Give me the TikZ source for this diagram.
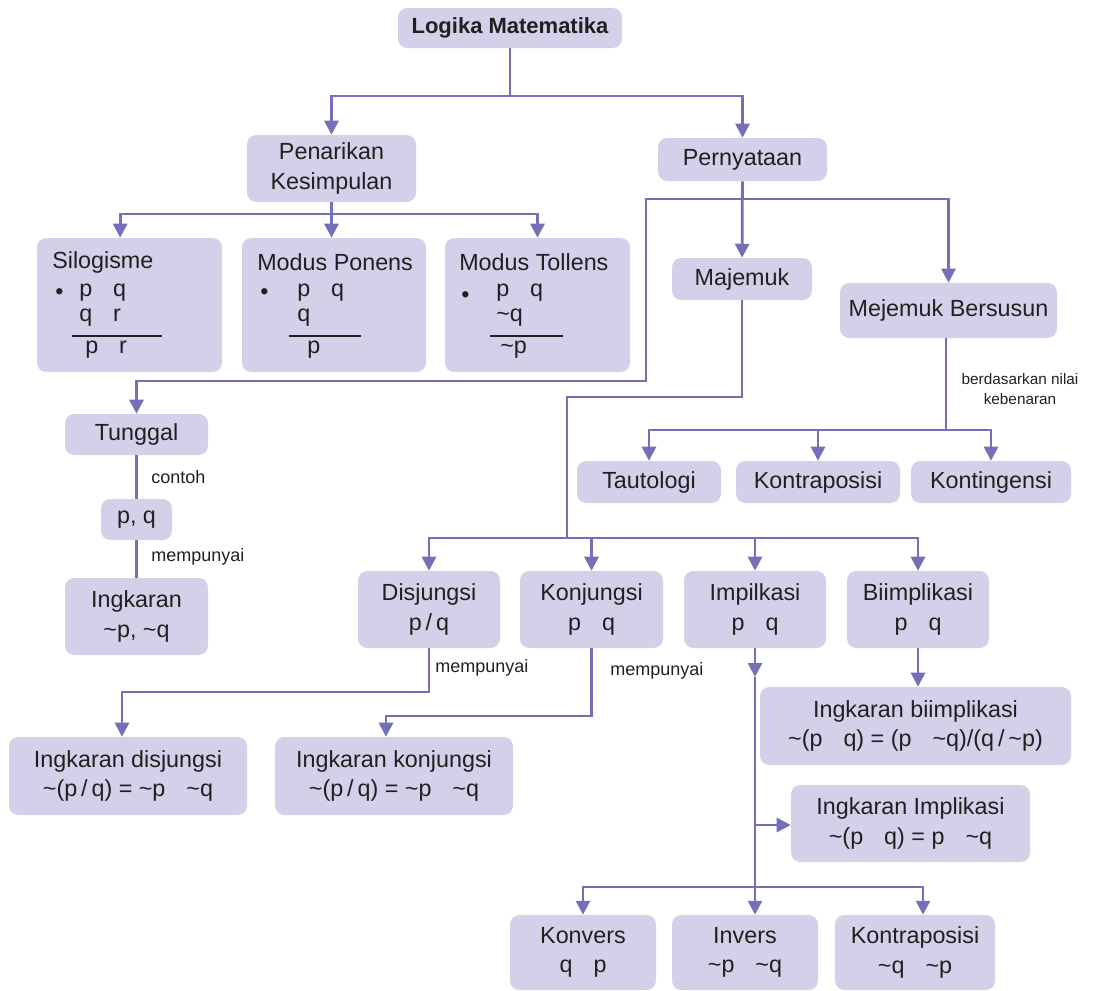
\documentclass[tikz,border=0pt]{standalone}
\usepackage{fontspec}
\setmainfont{Liberation Sans}
\usepackage{tikz}
\usetikzlibrary{arrows.meta,calc}

\definecolor{boxfill}{RGB}{211,209,233}
\definecolor{lineblue}{RGB}{116,112,184}
\definecolor{ink}{RGB}{35,31,32}
\newcommand{\symgap}{\hspace{0.9em}}
\newcommand{\nega}{\textasciitilde}

\begin{document}
\begin{tikzpicture}[
    x=0.75pt, y=-0.75pt,
    font=\fontsize{17.5}{22}\selectfont, text=ink,
    v/.style={fill=boxfill, rounded corners=7pt, inner sep=0pt, align=center},
    sz/.style 2 args={minimum width=#1*0.75pt, minimum height=#2*0.75pt},
    lbl/.style={font=\fontsize{13.5}{16}\selectfont, inner sep=0pt},
    txt/.style={anchor=west, inner sep=0pt},
    ln/.style={draw=lineblue, line width=2.1pt},
    arr/.style={ln, -{Triangle[width=10.5pt,length=10.5pt]}},
    rulel/.style={draw=ink, line width=1.1pt},
  ]
    \useasboundingbox (0,0) rectangle (1120,990);

    % Top
    \node[v, sz={224}{40}, font=\fontsize{16.5}{20}\selectfont\bfseries] (logika) at (510,28) {Logika Matematika};
    \node[v, sz={169}{67}] (penarikan) at (331.5,168.5) {Penarikan\\Kesimpulan};
    \node[v, sz={169}{43}] (pernyataan) at (742.5,159.5) {Pernyataan};

    % Penarikan kesimpulan
    \node[v, sz={185}{134}] (silogisme) at (129.5,305) {};
    \node[v, sz={184}{134}] (modponens) at (334,305) {};
    \node[v, sz={185}{134}] (modtollens) at (537.5,305) {};

    \node[txt] (silt) at (52,262) {Silogisme};
    \node[txt] (silb) at (55,294) {\textbullet};
    \node[txt] (sila) at (79,293) {p\symgap q};
    \node[txt] (silc) at (79,318) {q\symgap r};
    \node[txt] (sild) at (85,350) {p\symgap r};
    \draw[rulel] (72,336) -- (162,336);

    \node[txt] (mpt) at (257,262) {Modus Ponens};
    \node[txt] (mpb) at (260,294) {\textbullet};
    \node[txt] (mpa) at (297,293) {p\symgap q};
    \node[txt] (mpc) at (297,318) {q};
    \node[txt] (mpd) at (307,350) {p};
    \draw[rulel] (289,336) -- (361,336);

    \node[txt] (mtt) at (459,262) {Modus Tollens};
    \node[txt] (mtb) at (461,297) {\textbullet};
    \node[txt] (mta) at (496,293) {p\symgap q};
    \node[txt] (mtc) at (496,318) {\nega q};
    \node[txt] (mtd) at (500,350) {\nega p};
    \draw[rulel] (490,336) -- (563,336);

    % Pernyataan
    \node[v, sz={140}{42}] (majemuk) at (742,279) {Majemuk};
    \node[v, sz={217}{55}] (bersusun) at (948.5,310.5) {Mejemuk Bersusun};
    \node[v, sz={144}{42}] (tautologi) at (649,482) {Tautologi};
    \node[v, sz={164}{42}] (kontraposisi) at (818,482) {Kontraposisi};
    \node[v, sz={160}{42}] (kontingensi) at (991,482) {Kontingensi};

    % Tunggal
    \node[v, sz={143}{41}] (tunggal) at (136.5,434.5) {Tunggal};
    \node[v, sz={71}{41}] (pq) at (136.5,519.5) {p, q};
    \node[v, sz={143}{77}] (ingkaran) at (136.5,616.5) {Ingkaran\\\nega p, \nega q};

    % Majemuk
    \node[v, sz={142}{77}] (disjungsi) at (429,609.5) {Disjungsi\\p\,/\,q};
    \node[v, sz={143}{77}] (konjungsi) at (591.5,609.5) {Konjungsi\\p\symgap q};
    \node[v, sz={142}{77}] (impilkasi) at (755,609.5) {Impilkasi\\p\symgap q};
    \node[v, sz={142}{77}] (biimplikasi) at (918,609.5) {Biimplikasi\\p\symgap q};

    \node[v, sz={238}{78}] (ingdis) at (128,776) {Ingkaran disjungsi\\\nega(p\,/\,q) = \nega p\symgap\nega q};
    \node[v, sz={238}{78}] (ingkon) at (394,776) {Ingkaran konjungsi\\\nega(p\,/\,q) = \nega p\symgap\nega q};
    \node[v, sz={311}{78}] (ingbi) at (915.5,726) {Ingkaran biimplikasi\\\nega(p\symgap q) = (p\symgap\nega q)/(q\,/\,\nega p)};
    \node[v, sz={239}{77}] (ingimp) at (910.5,823.5) {Ingkaran Implikasi\\\nega(p\symgap q) = p\symgap\nega q};

    \node[v, sz={146}{75}] (konvers) at (583,952.5) {Konvers\\q\symgap p};
    \node[v, sz={146}{75}] (invers) at (745,952.5) {Invers\\\nega p\symgap\nega q};
    \node[v, sz={160}{75}] (kontra) at (915,952.5) {Kontraposisi\\\nega q\symgap\nega p};

    % Junctions
    \coordinate (j1) at (510,96);
    \coordinate (j2) at (331.5,214);
    \coordinate (j3) at (742.5,199);
    \coordinate (k1) at (646,381);
    \coordinate (m1) at (567,397);
    \coordinate (j4) at (567,538);
    \coordinate (j5) at (946,430);
    \coordinate (d1) at (429,692);
    \coordinate (c1) at (591.5,716);
    \coordinate (i1) at (755,677);
    \coordinate (i2) at (755,825);
    \coordinate (j6) at (755,887);

    % Arrows
    \draw[ln] (logika) -- (j1);
    \draw[arr] (j1) -| (penarikan);
    \draw[arr] (j1) -| (pernyataan);

    \draw[ln] (penarikan) -- (j2);
    \draw[arr] (j2) -| ([xshift=-7pt]silogisme.north);
    \draw[arr] (j2) -- (j2 |- modponens.north);
    \draw[arr] (j2) -| (modtollens);

    \draw[arr] (pernyataan) -- (majemuk);
    \draw[arr] (j3) -| (bersusun);
    \draw[arr] (j3) -| (k1) -| (tunggal);

    \draw[ln] (tunggal) -- (pq);
    \draw[ln] (pq) -- (ingkaran);
    \node[lbl, anchor=west] (contoh) at (151,477) {contoh};
    \node[lbl, anchor=west] (punya1) at (151,557) {mempunyai};

    \draw[ln] (bersusun.south -| j5) -- (j5);
    \node[lbl, align=center, font=\fontsize{11.5}{15}\selectfont] (nilai) at (1020,389) {berdasarkan nilai\\kebenaran};
    \draw[arr] (j5) -| (tautologi);
    \draw[arr] (j5) -| (kontraposisi);
    \draw[arr] (j5) -| (kontingensi);

    \draw[ln] (majemuk) |- (m1) -- (j4);
    \draw[arr] (j4) -| (disjungsi);
    \draw[arr] (j4) -| (konjungsi);
    \draw[arr] (j4) -| (impilkasi);
    \draw[arr] (j4) -| (biimplikasi);

    \draw[arr] (disjungsi) -- (d1) -| ([xshift=-4.5pt]ingdis.north);
    \node[lbl, anchor=west] (punya2) at (435,668) {mempunyai};
    \draw[arr] (konjungsi) -- (c1) -| ([xshift=-6pt]ingkon.north);
    \node[lbl, anchor=west] (punya3) at (610,671) {mempunyai};

    \draw[arr] (biimplikasi.south) -- (biimplikasi.south |- ingbi.north);

    \draw[arr] (impilkasi) -- (i1);
    \draw[ln] (i1) -- (j6);
    \draw[arr] (i2) -- (i2 -| ingimp.west);
    \draw[arr] (j6) -| (konvers);
    \draw[arr] (j6) -- (j6 |- invers.north);
    \draw[arr] (j6) -| ([xshift=6pt]kontra.north);
\end{tikzpicture}
\end{document}
